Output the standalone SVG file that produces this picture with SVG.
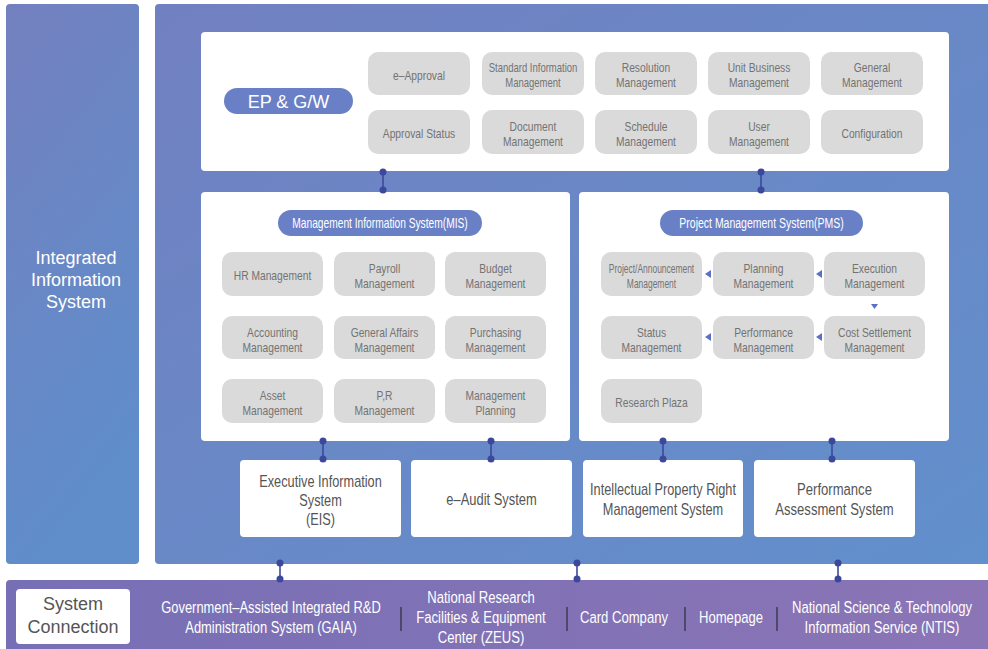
<svg xmlns="http://www.w3.org/2000/svg" width="988" height="649" viewBox="0 0 988 649">
<defs>
<linearGradient id="gMain" x1="0" y1="0" x2="1" y2="1">
<stop offset="0" stop-color="#7280c1"/>
<stop offset="1" stop-color="#6190cc"/>
</linearGradient>
<linearGradient id="gLeft" x1="0" y1="0" x2="0.3" y2="1">
<stop offset="0" stop-color="#7480bf"/>
<stop offset="1" stop-color="#5f8ecb"/>
</linearGradient>
<linearGradient id="gBar" x1="0" y1="0" x2="1" y2="0">
<stop offset="0" stop-color="#776fb6"/>
<stop offset="1" stop-color="#8b75b5"/>
</linearGradient>
<style>
text{font-family:"Liberation Sans",Arial,sans-serif;text-anchor:middle}
.gbox{fill:#dadada}
.gt{font-size:13px;fill:#737373}
.panel{fill:#ffffff}
.pill{fill:#6a80c6}
.pt{font-size:14px;fill:#ffffff}
.bt{font-size:17px;fill:#555555}
.wt{fill:#ffffff}
.bar{font-size:17px;fill:#ffffff}
.sep{stroke:#3d3a52;stroke-width:1.5}
.tri{fill:#5b70c2}
#connectors line{stroke:#3b489c;stroke-width:1.6}
#connectors circle{fill:#3b489c}
</style>
</defs>

<!-- backgrounds -->
<g id="integrated">
<rect x="6" y="4" width="133" height="560" rx="4" fill="url(#gLeft)"/>
<text class="wt" font-size="18" x="76"><tspan x="76" y="264">Integrated</tspan><tspan x="76" y="286">Information</tspan><tspan x="76" y="308">System</tspan></text>
</g>
<g id="main-panel">
<rect x="155" y="4" width="845" height="560" rx="4" fill="url(#gMain)"/>
</g>
<g id="connection-bar">
<rect x="6" y="580" width="994" height="80" rx="4" fill="url(#gBar)"/>
</g>

<!-- EP & G/W -->
<g id="epgw">
<rect class="panel" x="201" y="32" width="748" height="139" rx="4"/>
<rect class="pill" x="224" y="88" width="129" height="26" rx="13"/>
<text class="wt" font-size="18" x="288.5" y="108">EP &amp; G/W</text>
</g>
<g id="e-approval"><rect class="gbox" x="368" y="52" width="102" height="43" rx="10"/><text class="gt" transform="matrix(0.79 0 0 1 419 0)" x="0" y="80">e–Approval</text></g>
<g id="standard-info"><rect class="gbox" x="482" y="52" width="102" height="43" rx="10"/><text class="gt" transform="matrix(0.73 0 0 1 533 0)"><tspan x="0" y="72.5">Standard Information</tspan><tspan x="0" y="87.5">Management</tspan></text></g>
<g id="resolution"><rect class="gbox" x="595" y="52" width="102" height="43" rx="10"/><text class="gt" transform="matrix(0.79 0 0 1 646 0)"><tspan x="0" y="72.5">Resolution</tspan><tspan x="0" y="87.5">Management</tspan></text></g>
<g id="unit-business"><rect class="gbox" x="708" y="52" width="102" height="43" rx="10"/><text class="gt" transform="matrix(0.79 0 0 1 759 0)"><tspan x="0" y="72.5">Unit Business</tspan><tspan x="0" y="87.5">Management</tspan></text></g>
<g id="general"><rect class="gbox" x="821" y="52" width="102" height="43" rx="10"/><text class="gt" transform="matrix(0.79 0 0 1 872 0)"><tspan x="0" y="72.5">General</tspan><tspan x="0" y="87.5">Management</tspan></text></g>
<g id="approval-status"><rect class="gbox" x="368" y="110" width="102" height="44" rx="10"/><text class="gt" transform="matrix(0.79 0 0 1 419 0)" x="0" y="138">Approval Status</text></g>
<g id="document"><rect class="gbox" x="482" y="110" width="102" height="44" rx="10"/><text class="gt" transform="matrix(0.79 0 0 1 533 0)"><tspan x="0" y="131">Document</tspan><tspan x="0" y="146">Management</tspan></text></g>
<g id="schedule"><rect class="gbox" x="595" y="110" width="102" height="44" rx="10"/><text class="gt" transform="matrix(0.79 0 0 1 646 0)"><tspan x="0" y="131">Schedule</tspan><tspan x="0" y="146">Management</tspan></text></g>
<g id="user"><rect class="gbox" x="708" y="110" width="102" height="44" rx="10"/><text class="gt" transform="matrix(0.79 0 0 1 759 0)"><tspan x="0" y="131">User</tspan><tspan x="0" y="146">Management</tspan></text></g>
<g id="configuration"><rect class="gbox" x="821" y="110" width="102" height="44" rx="10"/><text class="gt" transform="matrix(0.79 0 0 1 872 0)" x="0" y="138">Configuration</text></g>

<!-- MIS -->
<g id="mis">
<rect class="panel" x="201" y="192" width="369" height="249" rx="4"/>
<rect class="pill" x="278" y="210" width="204" height="26" rx="13"/>
<text class="pt" transform="matrix(0.73 0 0 1 380 0)" x="0" y="228">Management Information System(MIS)</text>
</g>
<g id="hr"><rect class="gbox" x="222" y="252" width="101" height="44" rx="10"/><text class="gt" transform="matrix(0.79 0 0 1 272.5 0)" x="0" y="280.5">HR Management</text></g>
<g id="payroll"><rect class="gbox" x="334" y="252" width="101" height="44" rx="10"/><text class="gt" transform="matrix(0.79 0 0 1 384.5 0)"><tspan x="0" y="273.5">Payroll</tspan><tspan x="0" y="288.5">Management</tspan></text></g>
<g id="budget"><rect class="gbox" x="445" y="252" width="101" height="44" rx="10"/><text class="gt" transform="matrix(0.79 0 0 1 495.5 0)"><tspan x="0" y="273.5">Budget</tspan><tspan x="0" y="288.5">Management</tspan></text></g>
<g id="accounting"><rect class="gbox" x="222" y="316" width="101" height="43" rx="10"/><text class="gt" transform="matrix(0.79 0 0 1 272.5 0)"><tspan x="0" y="337">Accounting</tspan><tspan x="0" y="352">Management</tspan></text></g>
<g id="general-affairs"><rect class="gbox" x="334" y="316" width="101" height="43" rx="10"/><text class="gt" transform="matrix(0.79 0 0 1 384.5 0)"><tspan x="0" y="337">General Affairs</tspan><tspan x="0" y="352">Management</tspan></text></g>
<g id="purchasing"><rect class="gbox" x="445" y="316" width="101" height="43" rx="10"/><text class="gt" transform="matrix(0.79 0 0 1 495.5 0)"><tspan x="0" y="337">Purchasing</tspan><tspan x="0" y="352">Management</tspan></text></g>
<g id="asset"><rect class="gbox" x="222" y="379" width="101" height="44" rx="10"/><text class="gt" transform="matrix(0.79 0 0 1 272.5 0)"><tspan x="0" y="400.5">Asset</tspan><tspan x="0" y="415.5">Management</tspan></text></g>
<g id="pr"><rect class="gbox" x="334" y="379" width="101" height="44" rx="10"/><text class="gt" transform="matrix(0.79 0 0 1 384.5 0)"><tspan x="0" y="400.5">P,R</tspan><tspan x="0" y="415.5">Management</tspan></text></g>
<g id="mgmt-planning"><rect class="gbox" x="445" y="379" width="101" height="44" rx="10"/><text class="gt" transform="matrix(0.79 0 0 1 495.5 0)"><tspan x="0" y="400.5">Management</tspan><tspan x="0" y="415.5">Planning</tspan></text></g>

<!-- PMS -->
<g id="pms">
<rect class="panel" x="579" y="192" width="370" height="249" rx="4"/>
<rect class="pill" x="660" y="210" width="203" height="26" rx="13"/>
<text class="pt" transform="matrix(0.75 0 0 1 761.5 0)" x="0" y="228">Project Management System(PMS)</text>
</g>
<g id="project-announcement"><rect class="gbox" x="601" y="252" width="101" height="44" rx="10"/><text class="gt" transform="matrix(0.65 0 0 1 651.5 0)"><tspan x="0" y="273.5">Project/Announcement</tspan><tspan x="0" y="288.5" transform="">Management</tspan></text></g>
<g id="planning"><rect class="gbox" x="713" y="252" width="101" height="44" rx="10"/><text class="gt" transform="matrix(0.79 0 0 1 763.5 0)"><tspan x="0" y="273.5">Planning</tspan><tspan x="0" y="288.5">Management</tspan></text></g>
<g id="execution"><rect class="gbox" x="824" y="252" width="101" height="44" rx="10"/><text class="gt" transform="matrix(0.79 0 0 1 874.5 0)"><tspan x="0" y="273.5">Execution</tspan><tspan x="0" y="288.5">Management</tspan></text></g>
<g id="status"><rect class="gbox" x="601" y="316" width="101" height="43" rx="10"/><text class="gt" transform="matrix(0.79 0 0 1 651.5 0)"><tspan x="0" y="337">Status</tspan><tspan x="0" y="352">Management</tspan></text></g>
<g id="performance"><rect class="gbox" x="713" y="316" width="101" height="43" rx="10"/><text class="gt" transform="matrix(0.79 0 0 1 763.5 0)"><tspan x="0" y="337">Performance</tspan><tspan x="0" y="352">Management</tspan></text></g>
<g id="cost-settlement"><rect class="gbox" x="824" y="316" width="101" height="43" rx="10"/><text class="gt" transform="matrix(0.79 0 0 1 874.5 0)"><tspan x="0" y="337">Cost Settlement</tspan><tspan x="0" y="352">Management</tspan></text></g>
<g id="research-plaza"><rect class="gbox" x="601" y="379" width="101" height="44" rx="10"/><text class="gt" transform="matrix(0.79 0 0 1 651.5 0)" x="0" y="407.5">Research Plaza</text></g>

<!-- sub systems -->
<g id="eis"><rect class="panel" x="240" y="460" width="161" height="77" rx="4"/><text class="bt" transform="matrix(0.75 0 0 1 320.5 0)"><tspan x="0" y="487">Executive Information</tspan><tspan x="0" y="506">System</tspan><tspan x="0" y="525">(EIS)</tspan></text></g>
<g id="e-audit"><rect class="panel" x="411" y="460" width="161" height="77" rx="4"/><text class="bt" transform="matrix(0.76 0 0 1 491.5 0)" x="0" y="505">e–Audit System</text></g>
<g id="ipr"><rect class="panel" x="583" y="460" width="160" height="77" rx="4"/><text class="bt" transform="matrix(0.75 0 0 1 663 0)"><tspan x="0" y="495">Intellectual Property Right</tspan><tspan x="0" y="515">Management System</tspan></text></g>
<g id="performance-assessment"><rect class="panel" x="754" y="460" width="161" height="77" rx="4"/><text class="bt" transform="matrix(0.77 0 0 1 834.5 0)"><tspan x="0" y="495">Performance</tspan><tspan x="0" y="515">Assessment System</tspan></text></g>

<!-- system connection bar -->
<g id="system-connection"><rect class="panel" x="16" y="589" width="114" height="55" rx="4"/><text font-size="18" fill="#555555"><tspan x="73" y="610">System</tspan><tspan x="73" y="633">Connection</tspan></text></g>
<g id="gaia"><text class="bar" transform="matrix(0.76 0 0 1 271 0)"><tspan x="0" y="613">Government–Assisted Integrated R&amp;D</tspan><tspan x="0" y="633">Administration System (GAIA)</tspan></text></g>
<g id="zeus"><text class="bar" transform="matrix(0.77 0 0 1 481 0)"><tspan x="0" y="603">National Research</tspan><tspan x="0" y="623">Facilities &amp; Equipment</tspan><tspan x="0" y="643">Center (ZEUS)</tspan></text></g>
<g id="card"><text class="bar" transform="matrix(0.77 0 0 1 624 0)" x="0" y="623">Card Company</text></g>
<g id="homepage"><text class="bar" transform="matrix(0.77 0 0 1 731 0)" x="0" y="623">Homepage</text></g>
<g id="ntis"><text class="bar" transform="matrix(0.77 0 0 1 882 0)"><tspan x="0" y="613">National Science &amp; Technology</tspan><tspan x="0" y="633">Information Service (NTIS)</tspan></text></g>
<g id="separators">
<line class="sep" x1="401" y1="607" x2="401" y2="631"/>
<line class="sep" x1="567" y1="607" x2="567" y2="631"/>
<line class="sep" x1="685" y1="607" x2="685" y2="631"/>
<line class="sep" x1="777" y1="607" x2="777" y2="631"/>
</g>

<!-- PMS flow arrows -->
<g id="flow-arrows">
<polygon class="tri" points="705,274 711,270 711,278"/>
<polygon class="tri" points="816,274 822,270 822,278"/>
<polygon class="tri" points="705,337 711,333 711,341"/>
<polygon class="tri" points="816,337 822,333 822,341"/>
<polygon class="tri" points="871,304 878,304 874.5,309"/>
</g>

<!-- connectors -->
<g id="connectors">
<line x1="383" y1="172" x2="383" y2="190"/><circle cx="383" cy="172" r="3.5"/><circle cx="383" cy="190" r="3.5"/>
<line x1="761" y1="172" x2="761" y2="190"/><circle cx="761" cy="172" r="3.5"/><circle cx="761" cy="190" r="3.5"/>
<line x1="323" y1="441" x2="323" y2="459"/><circle cx="323" cy="441" r="3.5"/><circle cx="323" cy="459" r="3.5"/>
<line x1="491" y1="441" x2="491" y2="459"/><circle cx="491" cy="441" r="3.5"/><circle cx="491" cy="459" r="3.5"/>
<line x1="663" y1="441" x2="663" y2="459"/><circle cx="663" cy="441" r="3.5"/><circle cx="663" cy="459" r="3.5"/>
<line x1="832" y1="441" x2="832" y2="459"/><circle cx="832" cy="441" r="3.5"/><circle cx="832" cy="459" r="3.5"/>
<line x1="280" y1="563" x2="280" y2="579"/><circle cx="280" cy="563" r="3.5"/><circle cx="280" cy="579" r="3.5"/>
<line x1="577" y1="563" x2="577" y2="579"/><circle cx="577" cy="563" r="3.5"/><circle cx="577" cy="579" r="3.5"/>
<line x1="838" y1="563" x2="838" y2="579"/><circle cx="838" cy="563" r="3.5"/><circle cx="838" cy="579" r="3.5"/>
</g>
</svg>
